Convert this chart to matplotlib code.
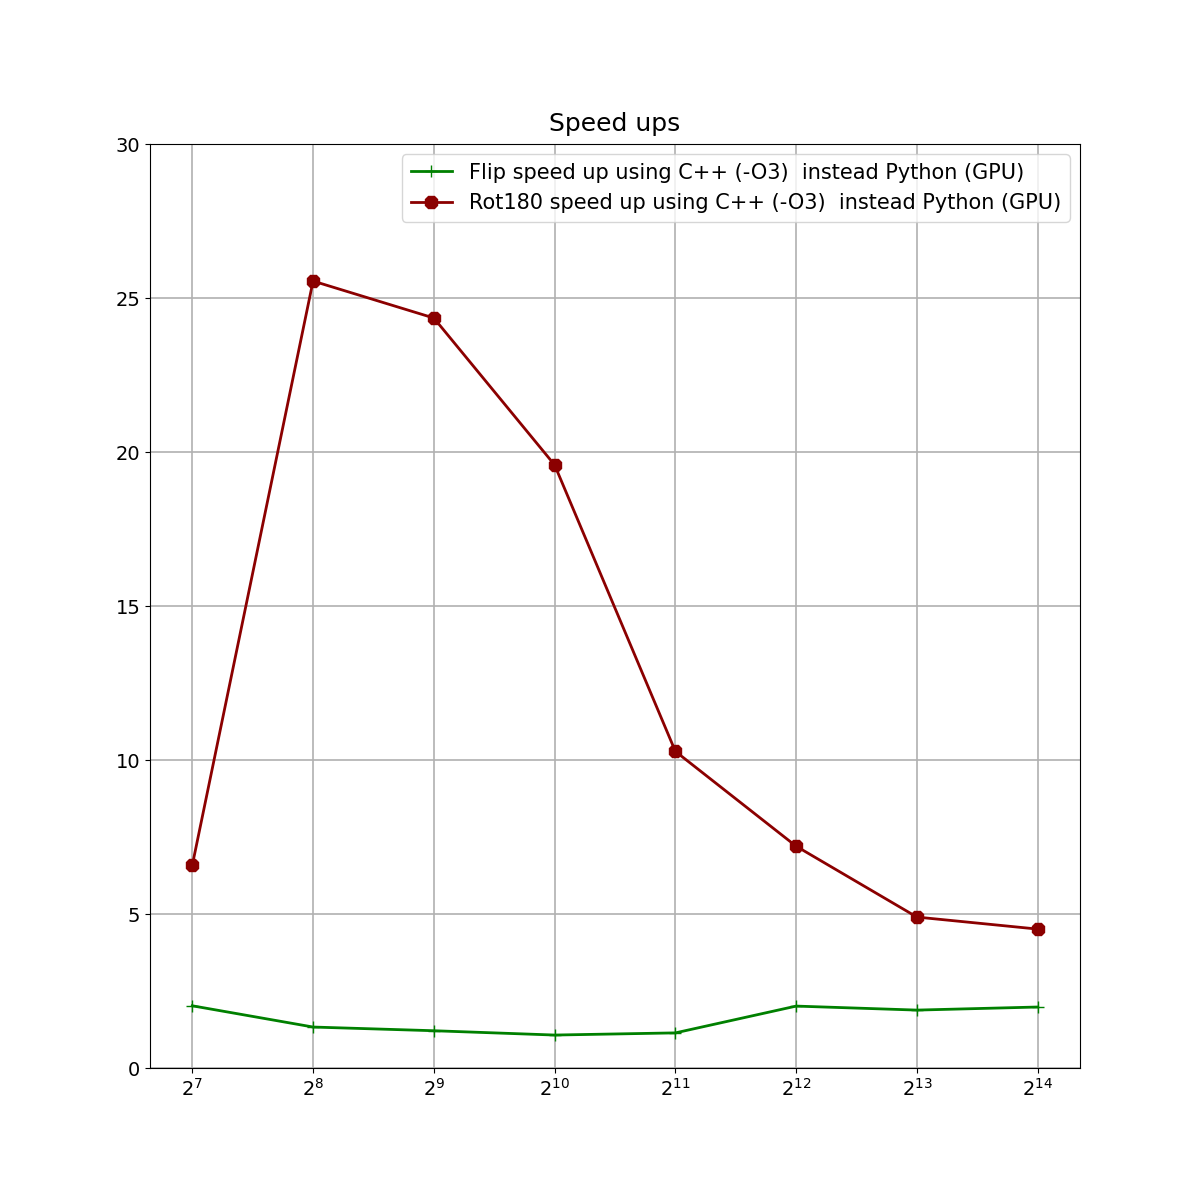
import matplotlib
matplotlib.use('Agg')
import matplotlib.pyplot as plt

# data
sizes = [2**7, 2**8, 2**9, 2**10, 2**11, 2**12, 2**13, 2**14]
flip_speedup = [2.02, 1.33, 1.21, 1.07, 1.14, 2.01, 1.88, 1.98]
rot180_speedup = [6.58, 25.55, 24.35, 19.58, 10.28, 7.20, 4.90, 4.51]

fig, ax = plt.subplots(figsize=(12, 12), dpi=100)

ax.plot(sizes, flip_speedup, color='green', marker='+', markersize=9, linewidth=2,
        label='Flip speed up using C++ (-O3)  instead Python (GPU)')
ax.plot(sizes, rot180_speedup, color='darkred', marker='8', markersize=9.5, linewidth=2,
        label='Rot180 speed up using C++ (-O3)  instead Python (GPU)')

ax.set_xscale('log', base=2)
ax.set_xticks(sizes)
ax.tick_params(labelsize=14)
ax.set_ylim(0, 30)
ax.grid(True, color='#b0b0b0', linewidth=1.2)
ax.set_title('Speed ups', fontsize=18, pad=9.5)
ax.legend(fontsize=15, loc='upper right', handlelength=2.0)

fig.savefig('out.png')
